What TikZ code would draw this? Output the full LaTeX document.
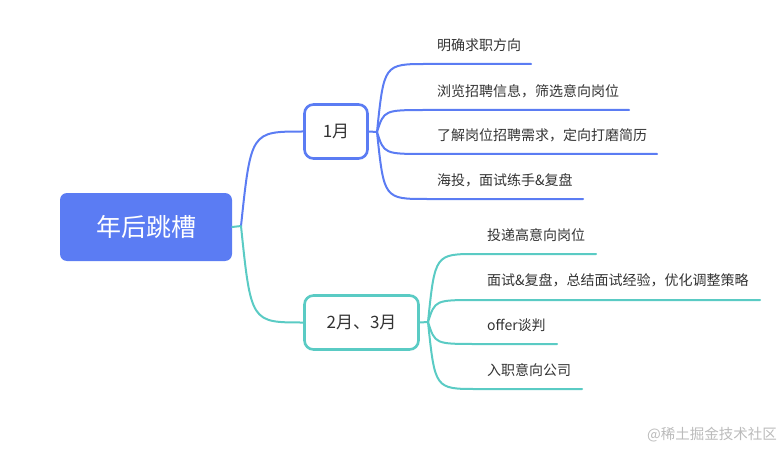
\documentclass[tikz,border=0pt]{standalone}
\usepackage{fontspec}
\setmainfont{Noto Sans CJK SC}
\definecolor{cblue}{HTML}{5B7CF3}
\definecolor{cteal}{HTML}{5ACBC4}
\definecolor{ctext}{HTML}{333333}
\definecolor{cmark}{HTML}{BBBBBB}
\begin{document}
\begin{tikzpicture}[x=1pt,y=-1pt,
  rootbox/.style={fill=cblue, rounded corners=7pt, text=white, inner sep=0pt,
    minimum width=172pt, minimum height=68pt, font=\fontsize{25}{29}\selectfont},
  subbox/.style={fill=white, line width=2.6pt, rounded corners=9pt, text=ctext, inner sep=0pt,
    minimum height=54pt, font=\fontsize{17}{20}\selectfont},
  leaf/.style={anchor=west, inner sep=0pt, text=ctext, font=\fontsize{14}{16}\selectfont},
  conn/.style={line width=2pt, line cap=round}
]
\useasboundingbox (0,0) rectangle (781,449);

% root
\node[rootbox] (root) at (146,227) {年后跳槽};

% branch boxes
\node[subbox, draw=cblue, minimum width=63pt] (m1) at (336,131.5) {1月};
\node[subbox, draw=cteal, minimum width=114pt] (m2) at (361.5,322.5) {2月、3月};

% junctions
\coordinate (rj) at (241,226);
\coordinate (j1) at (377,132);
\coordinate (j2) at (428,322);

% root connectors
\draw[conn, cteal] (root.east) -- (rj);
\draw[conn, cblue] (rj) .. controls ([xshift=10pt]rj |- m1.west) .. (m1.west);
\draw[conn, cteal] (rj) .. controls ([xshift=10pt]rj |- m2.west) .. (m2.west);

% stems
\draw[conn, cblue] (m1.east) -- (j1);
\draw[conn, cteal] (m2.east) -- (j2);

% 1月 children
\node[leaf] (a1) at (437,45) {明确求职方向};
\node[leaf] (a2) at (437,91) {浏览招聘信息，筛选意向岗位};
\node[leaf] (a3) at (437,135) {了解岗位招聘需求，定向打磨简历};
\node[leaf] (a4) at (437,180) {海投，面试练手\&复盘};
\coordinate (ua1) at (427,64);  \coordinate (ea1) at (531,64);
\coordinate (ua2) at (427,110); \coordinate (ea2) at (629,110);
\coordinate (ua3) at (427,154); \coordinate (ea3) at (657,154);
\coordinate (ua4) at (427,199); \coordinate (ea4) at (583,199);
\foreach \i in {1,2,3,4}{
  \draw[conn, cblue] (j1) .. controls ([xshift=7pt]j1 |- ua\i) .. (ua\i) -- (ea\i);
}

% 2月、3月 children
\node[leaf] (b1) at (487,235) {投递高意向岗位};
\node[leaf] (b2) at (487,280) {面试\&复盘，总结面试经验，优化调整策略};
\node[leaf] (b3) at (487,325) {offer谈判};
\node[leaf] (b4) at (487,370) {入职意向公司};
\coordinate (ub1) at (477,254); \coordinate (eb1) at (596,254);
\coordinate (ub2) at (477,300); \coordinate (eb2) at (760,300);
\coordinate (ub3) at (477,344); \coordinate (eb3) at (557,344);
\coordinate (ub4) at (477,389); \coordinate (eb4) at (582,389);
\foreach \i in {1,2,3,4}{
  \draw[conn, cteal] (j2) .. controls ([xshift=7pt]j2 |- ub\i) .. (ub\i) -- (eb\i);
}

% watermark
\node[anchor=east, inner sep=0pt, text=cmark, font=\fontsize{14.5}{16}\selectfont] (wm) at (777,435) {@稀土掘金技术社区};
\end{tikzpicture}
\end{document}
